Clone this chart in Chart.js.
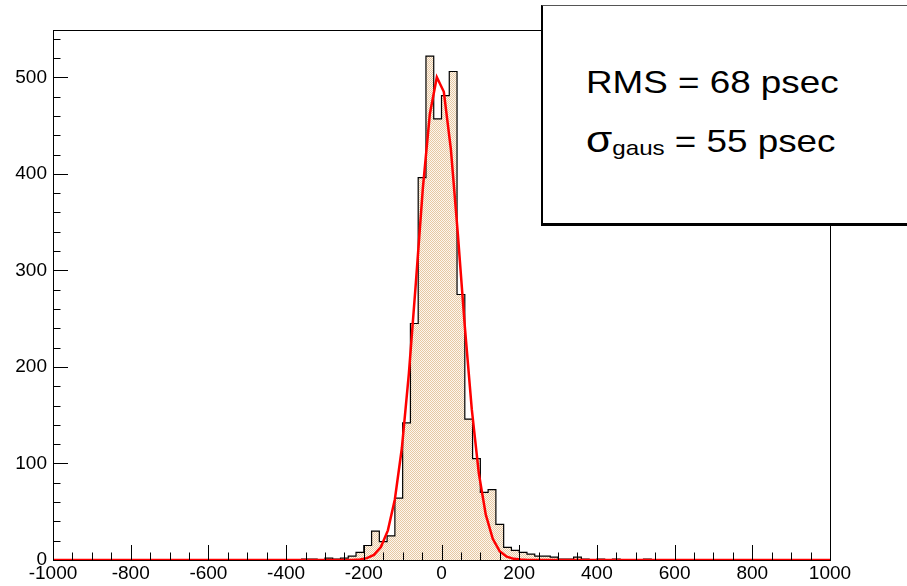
<!DOCTYPE html>
<html>
<head>
<meta charset="utf-8">
<script src="https://cdn.jsdelivr.net/npm/chart.js@4.4.1/dist/chart.umd.min.js"></script>
<style>
  body { margin: 0; background: #fff; overflow: hidden; }
  #caixa { position: relative; width: 907px; height: 586px; overflow: hidden; }
  #estatisticas {
    position: absolute; left: 541px; top: 5px; width: 380px; height: 217px;
    border-left: 2px solid #000; border-top: 1px solid #555; border-bottom: 3px solid #000;
    background: #fff;
    font-family: "Liberation Sans", Arial, sans-serif; color: #000;
  }
  .linha {
    position: absolute; left: 43px; font-size: 32px; line-height: 1; white-space: nowrap;
    transform: scaleX(1.15); transform-origin: left top;
  }
  .sigma { font-size: 37px; }
  .sub { font-size: 21px; position: relative; top: 3px; }
</style>
</head>
<body>
<div id="caixa">
  <canvas id="grafico-tempo" width="907" height="586"></canvas>
  <div id="estatisticas">
    <div class="linha" style="top:60px">RMS = 68 psec</div>
    <div class="linha" style="top:115px"><span class="sigma">σ</span><span class="sub">gaus</span> = 55 psec</div>
  </div>
</div>
<script>
// histograma: 100 bins de 20 ps entre -1000 e 1000
const inicioBins = -1000
const larguraBin = 20
const contagens = [
  0, 0, 0, 0, 0, 0, 0, 0, 0, 0,
  0, 0, 0, 0, 0, 0, 0, 0, 0, 0,
  0, 0, 0, 0, 0, 0, 0, 0, 0, 0,
  0, 0, 1, 1, 0, 2, 1, 2, 4, 8,
  15, 30, 19, 25, 64, 142, 245, 396, 522, 457,
  481, 506, 275, 146, 105, 70, 73, 37, 13, 10,
  8, 6, 4, 4, 3, 1, 1, 3, 1, 0,
  1, 0, 1, 0, 0, 0, 1, 0, 0, 0,
  0, 0, 0, 0, 0, 0, 0, 0, 0, 0,
  0, 0, 0, 0, 0, 0, 0, 0, 0, 0
]

// pontos do ajuste gaussiano (curva vermelha)
const ajusteX = [-1000, -300, -228, -210, -192, -174, -156, -138, -120, -102, -84, -66, -48, -30, -12, 6, 24, 42, 60, 78, 96, 114, 132, 150, 168, 186, 204, 222, 300, 1000]
const ajusteY = [0, 0, 0.1, 0.6, 1.9, 5.3, 13.4, 30.7, 63, 116, 193, 287, 385, 462, 500, 485, 426, 338, 242, 156, 90, 47, 22, 9, 3.5, 1.2, 0.4, 0.1, 0, 0]

const rotulosX = [-1000, -800, -600, -400, -200, 0, 200, 400, 600, 800, 1000]
const rotulosY = [0, 100, 200, 300, 400, 500]

let pontosHist = contagens.map((c, i) => ({ x: inicioBins + i * larguraBin, y: c }))
pontosHist.push({ x: inicioBins + contagens.length * larguraBin, y: contagens[contagens.length - 1] })
let pontosAjuste = ajusteX.map((x, i) => ({ x: x, y: ajusteY[i] }))

// padrao pontilhado do preenchimento
function criarPadrao() {
  const c = document.createElement("canvas")
  c.width = 2
  c.height = 2
  const g = c.getContext("2d")
  g.fillStyle = "#fdf6ee"
  g.fillRect(0, 0, 2, 2)
  g.fillStyle = "#e6c8a3"
  g.fillRect(0, 0, 1, 1)
  g.fillRect(1, 1, 1, 1)
  return g.createPattern(c, "repeat")
}

// moldura e marcas para dentro, estilo ROOT
const molduraRoot = {
  id: "molduraRoot",
  afterDatasetsDraw(chart) {
    const ctx = chart.ctx
    const area = chart.chartArea
    const sx = chart.scales.x
    const sy = chart.scales.y
    ctx.save()
    ctx.strokeStyle = "#000"
    ctx.lineWidth = 1
    ctx.strokeRect(area.left + 0.5, area.top + 0.5, area.right - area.left, area.bottom - area.top)
    ctx.beginPath()
    for (let v = -1000; v <= 1000; v += 50) {
      const px = Math.round(sx.getPixelForValue(v)) + 0.5
      const comp = v % 200 === 0 ? 15 : 7.5
      ctx.moveTo(px, area.bottom)
      ctx.lineTo(px, area.bottom - comp)
    }
    for (let v = 0; v <= 540; v += 20) {
      const py = Math.round(sy.getPixelForValue(v)) + 0.5
      const comp = v % 100 === 0 ? 15 : 7.5
      ctx.moveTo(area.left, py)
      ctx.lineTo(area.left + comp, py)
    }
    ctx.stroke()
    ctx.restore()
  }
}

const fonteEixo = { family: "'Liberation Sans', Arial, sans-serif", size: 19 }

new Chart(document.querySelector("#grafico-tempo").getContext("2d"), {
  type: "line",
  data: {
    datasets: [{
      label: "ajuste",
      data: pontosAjuste,
      borderColor: "#ff0000",
      borderWidth: 2.5,
      pointRadius: 0,
      tension: 0,
      fill: false,
      order: 0
    }, {
      label: "histograma",
      data: pontosHist,
      stepped: "before",
      borderColor: "#000",
      borderWidth: 1.2,
      pointRadius: 0,
      fill: "origin",
      backgroundColor: criarPadrao(),
      order: 1
    }]
  },
  options: {
    responsive: false,
    animation: false,
    devicePixelRatio: 1,
    layout: { padding: { top: 30, right: 77, left: 0, bottom: 0 } },
    plugins: { legend: { display: false }, tooltip: { enabled: false } },
    scales: {
      x: {
        type: "linear",
        min: -1000,
        max: 1000,
        afterFit: escala => { escala.height = 26 },
        afterBuildTicks: escala => { escala.ticks = rotulosX.map(v => ({ value: v })) },
        grid: { display: false, drawTicks: false },
        border: { display: false },
        ticks: { color: "#000", font: fonteEixo, padding: 2, maxRotation: 0, autoSkip: false,
                 callback: v => String(v) }
      },
      y: {
        type: "linear",
        min: 0,
        max: 549,
        afterFit: escala => { escala.width = 53 },
        afterBuildTicks: escala => { escala.ticks = rotulosY.map(v => ({ value: v })) },
        grid: { display: false, drawTicks: false },
        border: { display: false },
        ticks: { color: "#000", font: fonteEixo, padding: 6, callback: v => String(v) }
      }
    }
  },
  plugins: [molduraRoot]
})
</script>
</body>
</html>
